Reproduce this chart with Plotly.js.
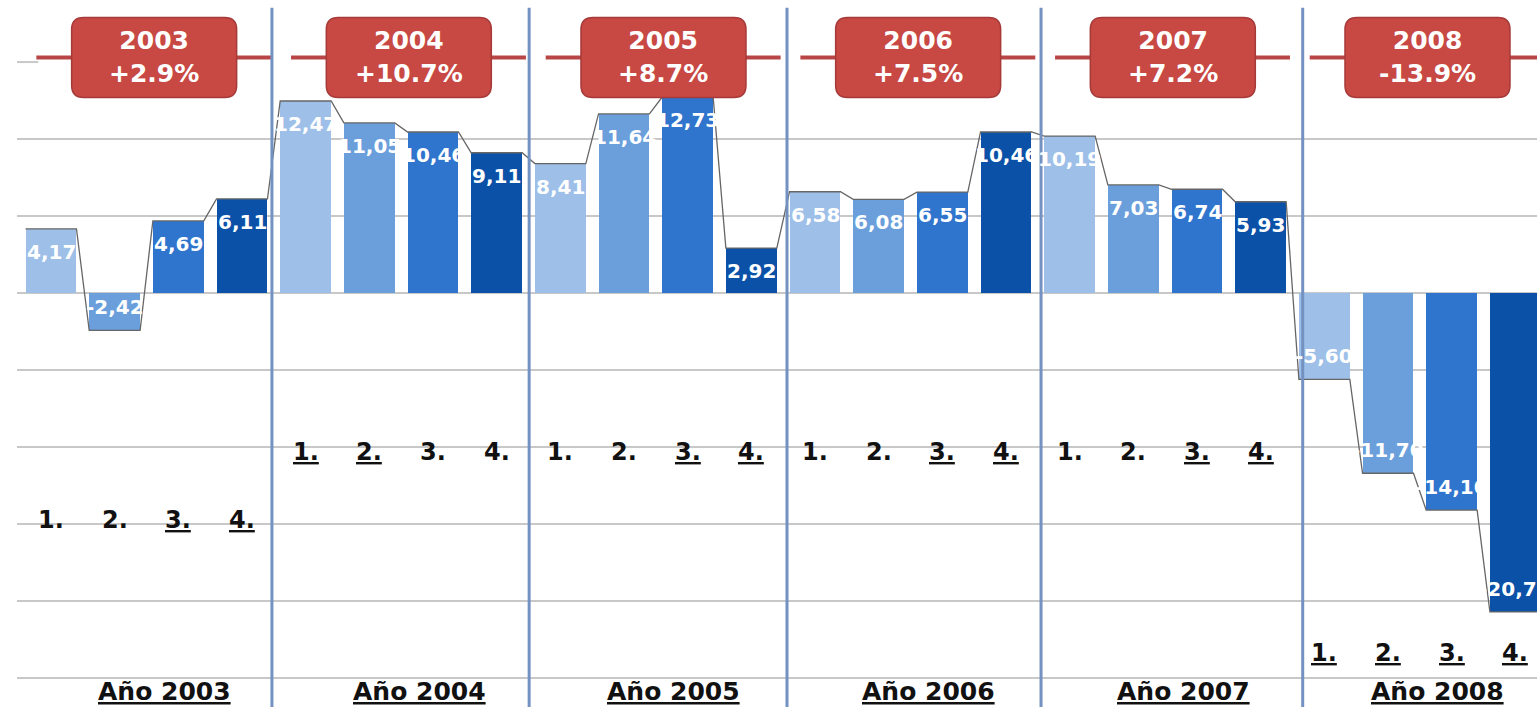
<!DOCTYPE html>
<html><head><meta charset="utf-8">
<script src="https://cdn.plot.ly/plotly-3.0.1.min.js"></script>
<style>html,body{margin:0;padding:0;background:#fff;overflow:hidden}#chart{width:1537px;height:707px}</style>
</head><body><div id="chart"></div>
<script>
// ---- data ----
const years = ['2003','2004','2005','2006','2007','2008'];
const yearGrowth = ['+2.9%','+10.7%','+8.7%','+7.5%','+7.2%','-13.9%'];
const quarterLabels = ['1.','2.','3.','4.'];
const q2003 = [4.17, -2.42, 4.69, 6.11];
const q2004 = [12.47, 11.05, 10.46, 9.11];
const q2005 = [8.41, 11.64, 12.73, 2.92];
const q2006 = [6.58, 6.08, 6.55, 10.46];
const q2007 = [10.19, 7.03, 6.74, 5.93];
const q2008 = [-5.60, -11.70, -14.10, -20.70];

// ---- styling / layout config ----
const quarterColors = ['#9dbfe8','#6a9fdc','#2f74cd','#0b51a8'];
const qLabelLevel = [-14.75, -10.3, -10.3, -10.3, -10.3, -23.4];
const qUnderline = [[0,0,1,1],[1,1,0,0],[0,0,1,1],[0,0,1,1],[0,0,1,1],[1,1,1,1]];
const sepOffset = [0, -0.03, 0.01, 0.06, 0.05, 0.16];
const FONT = 'DejaVu Sans, Verdana, sans-serif';

const series = [q2003, q2004, q2005, q2006, q2007, q2008];
const xs = [], ys = [], cols = [], texts = [];
series.forEach((arr, k) => arr.forEach((v, q) => {
  xs.push(k * 4 + q); ys.push(v); cols.push(quarterColors[q]);
  texts.push(v.toFixed(2).replace('.', ','));
}));

const BW = 0.8;
const lx = [], ly = [];
xs.forEach((x, i) => { lx.push(x - BW / 2, x + BW / 2); ly.push(ys[i], ys[i]); });

const traces = [
  { type: 'bar', x: xs, y: ys, width: BW, marker: { color: cols, line: { width: 0 } },
    hoverinfo: 'skip' },
  { type: 'scatter', mode: 'lines', x: lx, y: ly, line: { color: '#666666', width: 1.3 },
    hoverinfo: 'skip' }
];

const shapes = [];
const annotations = [];
const RED_Y = 15.3;

// gray stub of top gridline
shapes.push({ type: 'line', xref: 'x', yref: 'y', x0: -0.6, x1: -0.2, y0: 15, y1: 15,
  line: { color: '#c8c8c8', width: 2 } });

years.forEach((yr, k) => {
  const c = k * 4 + 1.5;
  // red horizontal line
  shapes.push({ type: 'line', xref: 'x', yref: 'y', x0: k * 4 - 0.5 + 0.27, x1: k * 4 + 3.5 - 0.04,
    y0: RED_Y, y1: RED_Y, line: { color: '#b94646', width: 4 } });
  // rounded box
  const hw = 82.5, hh = 40, r = 12;
  const p = `M ${-hw + r},${-hh} L ${hw - r},${-hh} Q ${hw},${-hh} ${hw},${-hh + r} L ${hw},${hh - r} Q ${hw},${hh} ${hw - r},${hh} L ${-hw + r},${hh} Q ${-hw},${hh} ${-hw},${hh - r} L ${-hw},${-hh + r} Q ${-hw},${-hh} ${-hw + r},${-hh} Z`;
  shapes.push({ type: 'path', xref: 'x', yref: 'y', xsizemode: 'pixel', ysizemode: 'pixel',
    xanchor: c + 0.12, yanchor: RED_Y, path: p,
    fillcolor: '#c84844', line: { color: '#a63a38', width: 1.5 }, layer: 'above' });
  annotations.push({ x: c + 0.12, y: RED_Y, xref: 'x', yref: 'y', showarrow: false,
    text: '<b>' + yr + '<br>' + yearGrowth[k] + '</b>', align: 'center',
    font: { family: FONT, size: 25, color: '#ffffff' } });
  // year separator
  if (k > 0) {
    const sx = k * 4 - 0.5 + sepOffset[k];
    shapes.push({ type: 'line', xref: 'x', yref: 'paper', x0: sx, x1: sx,
      y0: 0, y1: 0.989, line: { color: '#7392c2', width: 3 }, layer: 'above' });
  }
  // quarter labels
  quarterLabels.forEach((ql, q) => {
    const t = qUnderline[k][q] ? '<b><u>' + ql + '</u></b>' : '<b>' + ql + '</b>';
    annotations.push({ x: k * 4 + q, y: qLabelLevel[k], xref: 'x', yref: 'y', showarrow: false,
      text: t, font: { family: FONT, size: 24, color: '#111111' } });
  });
  // year label
  annotations.push({ x: c, y: -25.85, xref: 'x', yref: 'y', xshift: 18, showarrow: false,
    text: '<b><u>Año ' + yr + '</u></b>', font: { family: FONT, size: 25, color: '#111111' } });
});

// bar value labels
xs.forEach((x, i) => {
  annotations.push({ x: x, y: ys[i], xref: 'x', yref: 'y', showarrow: false,
    yshift: ys[i] >= 0 ? -23 : 23, text: '<b>' + texts[i] + '</b>',
    font: { family: FONT, size: 20, color: '#ffffff' } });
});

const layout = {
  width: 1537, height: 707,
  margin: { l: 17, r: 0, t: 0, b: 0, pad: 0 },
  paper_bgcolor: '#ffffff', plot_bgcolor: '#ffffff',
  showlegend: false,
  xaxis: { range: [-0.534, 23.34], showgrid: false, zeroline: false, showticklabels: false,
    showline: false, ticks: '', fixedrange: true },
  yaxis: { range: [-26.88, 19.03], tickvals: [-25, -20, -15, -10, -5, 0, 5, 10],
    showgrid: true, gridcolor: '#c8c8c8', gridwidth: 2, zeroline: false,
    showticklabels: false, showline: false, ticks: '', fixedrange: true },
  bargap: 0,
  shapes: shapes,
  annotations: annotations
};

Plotly.newPlot('chart', traces, layout, { displayModeBar: false, staticPlot: true });
</script>
</body></html>
